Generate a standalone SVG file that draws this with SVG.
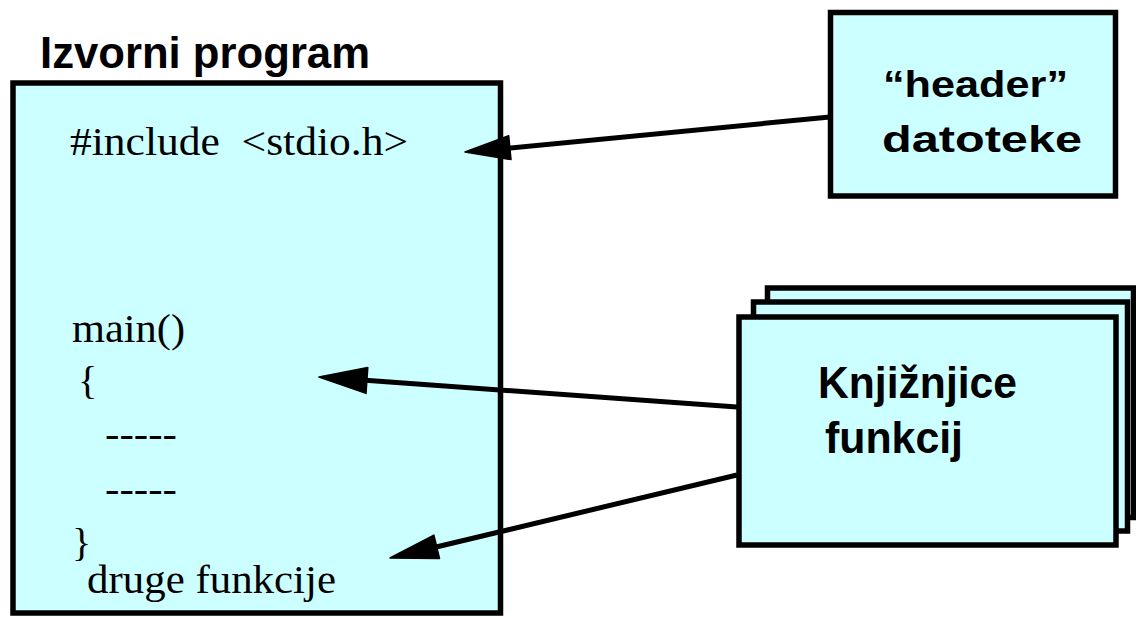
<svg xmlns="http://www.w3.org/2000/svg" width="1136" height="617" viewBox="0 0 1136 617">
<style>
.box{fill:#CCFFFF;stroke:#000;stroke-width:5.5}
.code{font-family:"Liberation Serif",serif;font-size:40px;fill:#000}
.lbl{font-family:"Liberation Sans",Arial,sans-serif;font-weight:bold;fill:#000}
.conn{stroke:#000;stroke-width:5;fill:none}
.head{fill:#000;stroke:#000;stroke-width:1.5;stroke-linejoin:round}
</style>
<rect width="1136" height="617" fill="#fff"/>
<g id="izvorni-program">
<text class="lbl" x="40" y="68" font-size="45" textLength="330" lengthAdjust="spacingAndGlyphs">Izvorni program</text>
<rect class="box" x="13" y="83" width="487.5" height="530"/>
<text class="code" x="70" y="155" textLength="338" lengthAdjust="spacingAndGlyphs">#include &#160;&lt;stdio.h&gt;</text>
<text class="code" x="72" y="342" textLength="113" lengthAdjust="spacingAndGlyphs">main()</text>
<text class="code" x="78" y="394">{</text>
<text class="code" x="105" y="447" textLength="72" lengthAdjust="spacingAndGlyphs">-----</text>
<text class="code" x="105" y="502" textLength="72" lengthAdjust="spacingAndGlyphs">-----</text>
<text class="code" x="72" y="556">}</text>
<text class="code" x="87" y="593" textLength="249" lengthAdjust="spacingAndGlyphs">druge funkcije</text>
</g>
<g id="connectors">
<line class="conn" x1="830" y1="117" x2="500" y2="149"/>
<polygon class="head" points="465,152 511,159.6 508.7,135.8"/>
<line class="conn" x1="737" y1="407" x2="362" y2="380"/>
<polygon class="head" points="319,377 366,393.4 367.8,367.4"/>
<line class="conn" x1="737" y1="475" x2="432" y2="548"/>
<polygon class="head" points="390,558 439.5,558.5 433.9,535.1"/>
</g>
<g id="header-datoteke">
<rect class="box" x="830.5" y="12.5" width="285" height="183.5"/>
<text class="lbl" x="883" y="97" font-size="36" textLength="185" lengthAdjust="spacingAndGlyphs">“header”</text>
<text class="lbl" x="882" y="152" font-size="36" textLength="200" lengthAdjust="spacingAndGlyphs">datoteke</text>
</g>
<g id="knjiznjice-funkcij">
<rect class="box" x="767.5" y="288" width="366" height="229.5"/>
<rect class="box" x="753.5" y="302" width="374" height="229"/>
<rect class="box" x="739" y="317" width="377" height="228"/>
<text class="lbl" x="818" y="398" font-size="44" textLength="199" lengthAdjust="spacingAndGlyphs">Knjižnjice</text>
<text class="lbl" x="825" y="453" font-size="44" textLength="138" lengthAdjust="spacingAndGlyphs">funkcij</text>
</g>
</svg>
